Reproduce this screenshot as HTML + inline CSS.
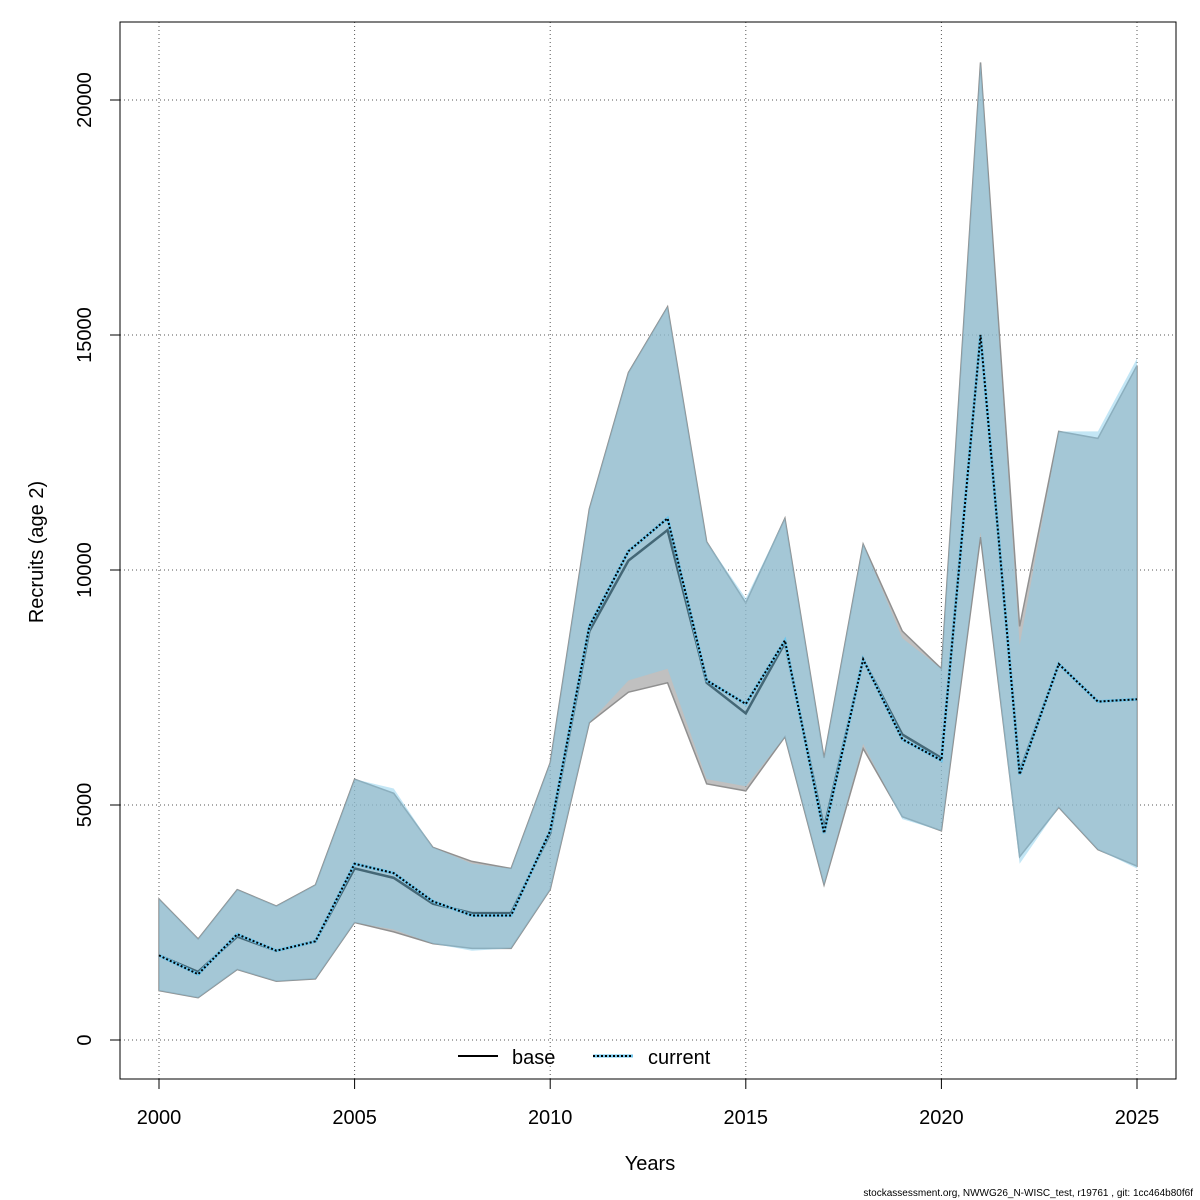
<!DOCTYPE html>
<html><head><meta charset="utf-8"><style>
body{margin:0;background:#fff}
svg{display:block;font-family:"Liberation Sans",sans-serif}
</style></head><body>
<svg id="chart" width="1200" height="1200" viewBox="0 0 1200 1200">
<rect x="0" y="0" width="1200" height="1200" fill="#fff"/>
<g id="grid"></g>
<g id="bands"></g>
<g id="lines"></g>
<rect x="120" y="22" width="1056" height="1057" fill="none" stroke="#000" stroke-width="1"/>
<g id="axes"></g>
<text x="650" y="1170" font-size="20" text-anchor="middle">Years</text>
<text x="43" y="552" font-size="20" text-anchor="middle" transform="rotate(-90 43 552)">Recruits (age 2)</text>
<g>
<line x1="458" y1="1056" x2="498" y2="1056" stroke="#000" stroke-width="2"/>
<text x="512" y="1064" font-size="20">base</text>
<line x1="593" y1="1056" x2="633" y2="1056" stroke="#6ec6ec" stroke-width="3"/>
<line x1="593" y1="1056" x2="633" y2="1056" stroke="#000" stroke-width="2" stroke-dasharray="2,2"/>
<text x="648" y="1064" font-size="20">current</text>
</g>
<text x="1193" y="1196" font-size="10" text-anchor="end">stockassessment.org, NWWG26_N-WISC_test, r19761 , git: 1cc464b80f6f</text>
</svg>
<script>
const years=[2000,2001,2002,2003,2004,2005,2006,2007,2008,2009,2010,2011,2012,2013,2014,2015,2016,2017,2018,2019,2020,2021,2022,2023,2024,2025];
const baseEst=[1800,1450,2200,1900,2100,3650,3450,2900,2700,2700,4400,8700,10200,10850,7600,6950,8450,4500,8100,6500,6000,15000,5700,8000,7200,7250];
const curEst=[1800,1400,2250,1900,2100,3750,3550,2950,2650,2650,4450,8800,10400,11100,7650,7150,8500,4400,8100,6400,5950,15000,5650,8000,7200,7250];
const baseHi=[3000,2150,3200,2850,3300,5550,5250,4100,3800,3650,5900,11300,14200,15600,10600,9300,11100,6000,10550,8700,7900,20800,8800,12950,12800,14350];
const curHi=[3000,2150,3200,2850,3300,5550,5350,4100,3750,3650,5900,11300,14200,15600,10600,9400,11100,6000,10550,8550,7900,20800,8400,12950,12950,14500];
const baseLo=[1050,900,1500,1250,1300,2500,2300,2050,1950,1950,3200,6750,7400,7600,5450,5300,6450,3300,6200,4750,4450,10700,3900,4950,4050,3700];
const curLo=[1050,900,1500,1250,1300,2500,2350,2050,1900,1950,3200,6750,7650,7900,5550,5400,6450,3300,6300,4700,4450,10800,3750,4950,4050,3650];
const xTicks=[2000,2005,2010,2015,2020,2025];
const yTicks=[0,5000,10000,15000,20000];
const NS="http://www.w3.org/2000/svg";
function X(v){return 159+(v-2000)*(1137-159)/25;}
function Y(v){return 1040-v*0.047;}
function mk(tag,attrs,parent){const e=document.createElementNS(NS,tag);for(const k in attrs)e.setAttribute(k,attrs[k]);parent.appendChild(e);return e;}
const grid=document.getElementById('grid'),axes=document.getElementById('axes'),bands=document.getElementById('bands'),lines=document.getElementById('lines');
xTicks.forEach(t=>{
 const g=mk('line',{x1:X(t),x2:X(t),y1:22,y2:1079,stroke:'#555','stroke-dasharray':'1,3'},grid);
 
 
 const tk=mk('line',{x1:X(t),x2:X(t),y1:1079,y2:1089,stroke:'#000'},axes);
 
 
 const tx=mk('text',{x:X(t),y:1124,'font-size':20,'text-anchor':'middle'},axes);tx.textContent=t;
 
 
});
yTicks.forEach(t=>{
 const g=mk('line',{x1:120,x2:1176,y1:Y(t),y2:Y(t),stroke:'#555','stroke-dasharray':'1,3'},grid);
 
 
 const tk=mk('line',{x1:110,x2:120,y1:Y(t),y2:Y(t),stroke:'#000'},axes);
 
 
 const tx=mk('text',{x:91,y:Y(t),'font-size':20,'text-anchor':'middle',transform:`rotate(-90 91 ${Y(t)})`},axes);tx.textContent=t;
 
 
});
function band(hi,lo,fill,stroke,name){
 let d='M'+years.map((y,i)=>X(y)+','+Y(hi[i])).join('L');
 d+='L'+years.map((y,i)=>X(y)+','+Y(lo[i])).reverse().join('L')+'Z';
 const p=mk('path',{d:d,fill:fill,stroke:stroke,'stroke-width':1.5},bands);
 
 
}
function line(v,attrs,name,parent){
 const p=mk('polyline',Object.assign({points:years.map((y,i)=>X(y)+','+Y(v[i])).join(' '),fill:'none'},attrs),parent);
 
 
}
band(baseHi,baseLo,'rgba(150,150,150,0.6)','#909090','base-band');
line(baseEst,{stroke:'#000','stroke-width':2.5},'base-line',bands);
band(curHi,curLo,'rgba(135,206,235,0.5)','none','current-band');
line(curEst,{stroke:'#6ec6ec','stroke-width':3},'current-line-bg',lines);
line(curEst,{stroke:'#000','stroke-width':2,'stroke-dasharray':'2,2'},'current-line',lines);
</script>
</body></html>
